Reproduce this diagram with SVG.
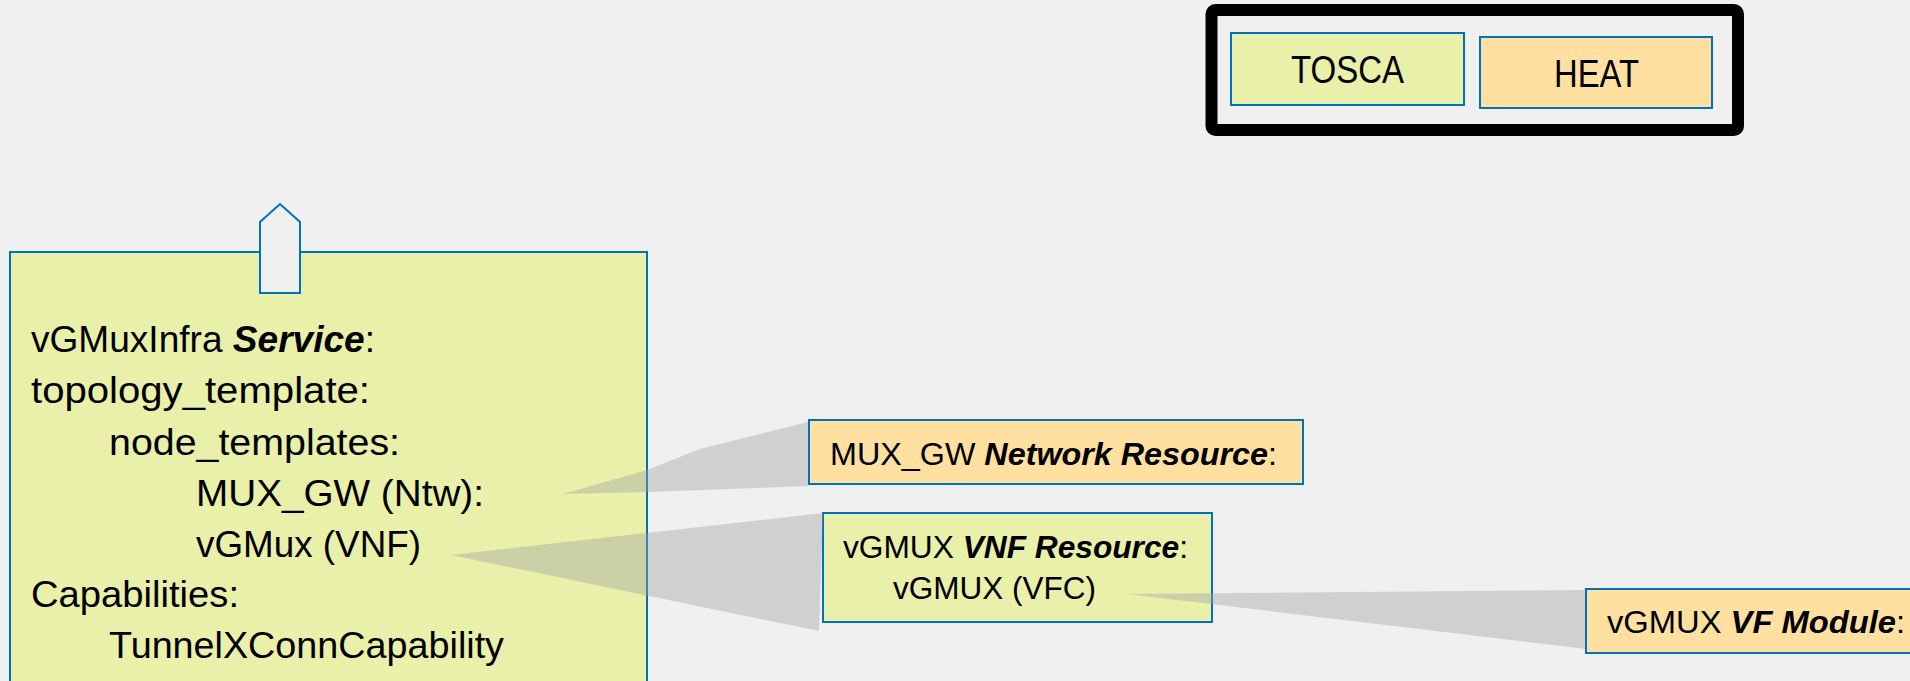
<svg xmlns="http://www.w3.org/2000/svg" width="1910" height="681" viewBox="0 0 1910 681">
<style>
  text { font-family: "Liberation Sans", Arial, sans-serif; fill: #000; }
  .box { stroke: #0070c0; stroke-width: 2; }
  .green { fill: #e8f0aa; }
  .orange { fill: #ffe0a0; }
  .main { font-size: 36px; }
  .res { font-size: 32px; }
  .leg { font-size: 38px; }
  .bi { font-weight: bold; font-style: italic; }
  .wedge { fill: #a0a0a0; fill-opacity: 0.4; stroke: none; }
</style>
<rect x="0" y="0" width="1910" height="681" fill="#f0f0f0"/>

<g id="service">
  <rect class="box green" x="10" y="252" width="637" height="460"/>
  <path class="box" d="M260,293 L260,222 L280,204 L300,222 L300,293 Z" fill="#f0f0f0"/>
  <text class="main" x="31" y="352" textLength="344" lengthAdjust="spacingAndGlyphs">vGMuxInfra <tspan class="bi">Service</tspan>:</text>
  <text class="main" x="31" y="403" textLength="339" lengthAdjust="spacingAndGlyphs">topology_template:</text>
  <text class="main" x="109" y="455" textLength="291" lengthAdjust="spacingAndGlyphs">node_templates:</text>
  <text class="main" x="196" y="506" textLength="288" lengthAdjust="spacingAndGlyphs">MUX_GW (Ntw):</text>
  <text class="main" x="196" y="557" textLength="225" lengthAdjust="spacingAndGlyphs">vGMux (VNF)</text>
  <text class="main" x="31" y="607" textLength="208" lengthAdjust="spacingAndGlyphs">Capabilities:</text>
  <text class="main" x="109" y="658" textLength="395" lengthAdjust="spacingAndGlyphs">TunnelXConnCapability</text>
</g>

<g id="vnf-resource">
  <rect class="box green" x="823" y="513" width="389" height="109"/>
  <text class="res" x="843" y="558" textLength="345" lengthAdjust="spacingAndGlyphs">vGMUX <tspan class="bi">VNF Resource</tspan>:</text>
  <text class="res" x="893" y="599" textLength="203" lengthAdjust="spacingAndGlyphs">vGMUX (VFC)</text>
</g>

<g id="connectors">
  <polygon class="wedge" points="563,494 647,470 700,449 808,422 808,486 647,492"/>
  <polygon class="wedge" points="451,555 823,513 819,631"/>
  <polygon class="wedge" points="1127,594 1586,590 1586,649"/>
</g>

<g id="network-resource">
  <rect class="box orange" x="809" y="420" width="494" height="64"/>
  <text class="res" x="830" y="465" textLength="447" lengthAdjust="spacingAndGlyphs">MUX_GW <tspan class="bi">Network Resource</tspan>:</text>
</g>

<g id="vf-module">
  <rect class="box orange" x="1586" y="589" width="340" height="64"/>
  <text class="res" x="1607" y="633" textLength="298" lengthAdjust="spacingAndGlyphs">vGMUX <tspan class="bi">VF Module</tspan>:</text>
</g>

<g id="legend">
  <rect x="1211.5" y="10" width="526.5" height="120" rx="4" fill="none" stroke="#000" stroke-width="12"/>
  <g id="legend-tosca">
    <rect class="box green" x="1231" y="33" width="233" height="72"/>
    <text class="leg" x="1291" y="83" textLength="113" lengthAdjust="spacingAndGlyphs">TOSCA</text>
  </g>
  <g id="legend-heat">
    <rect class="box orange" x="1480" y="37" width="232" height="71"/>
    <text class="leg" x="1554" y="87" textLength="85" lengthAdjust="spacingAndGlyphs">HEAT</text>
  </g>
</g>
</svg>
